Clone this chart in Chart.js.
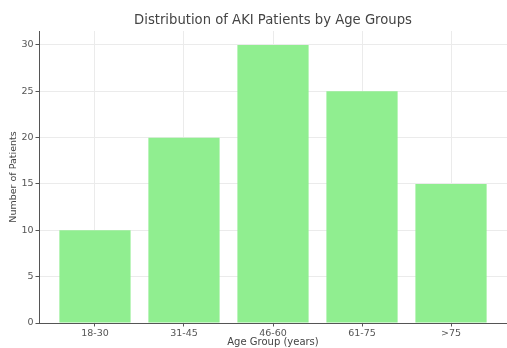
<!DOCTYPE html>
<html>
<head>
<meta charset="utf-8">
<script src="https://cdn.jsdelivr.net/npm/chart.js@4/dist/chart.umd.min.js"></script>
<style>
html,body{margin:0;padding:0;background:#fff;}
#wrap{width:507px;height:348px;position:relative;}
</style>
</head>
<body>
<div id="wrap"><canvas id="c" width="507" height="348"></canvas></div>
<script>
const categories = ["18-30", "31-45", "46-60", "61-75", ">75"];
const patients = [10, 20, 30, 25, 15];
const yTicks = [0, 5, 10, 15, 20, 25, 30];

const points = categories.map((c, i) => ({x: i, y: patients[i]}));
const FONT = "'DejaVu Sans', sans-serif";

new Chart(document.getElementById('c'), {
  type: 'bar',
  data: {
    datasets: [{
      data: points,
      backgroundColor: '#90EE90',
      borderWidth: 0,
      barPercentage: 0.8,
      categoryPercentage: 1.0
    }]
  },
  options: {
    responsive: false,
    animation: false,
    devicePixelRatio: 1,
    layout: {padding: {left: 0, right: 0, top: 0, bottom: 0}},
    plugins: {
      legend: {display: false},
      tooltip: {enabled: false},
      title: {
        display: true,
        fullSize: false,
        text: 'Distribution of AKI Patients by Age Groups',
        color: '#444',
        font: {family: FONT, size: 13.2, weight: 'normal'},
        padding: {top: 12.5, bottom: 2.7}
      }
    },
    scales: {
      x: {
        type: 'linear',
        min: -0.629,
        max: 4.629,
        offset: false,
        afterBuildTicks: s => { s.ticks = categories.map((c, i) => ({value: i})); },
        afterFit: s => { s.height = 25; },
        ticks: {
          autoSkip: false,
          maxRotation: 0,
          color: '#555',
          padding: 1,
          font: {family: FONT, size: 9.5},
          callback: v => categories[v]
        },
        grid: {offset: false, color: '#ebebeb', lineWidth: 1, tickColor: '#555', tickLength: 3.5},
        border: {display: true, color: '#555', width: 1},
        title: {
          display: true,
          text: 'Age Group (years)',
          color: '#444',
          font: {family: FONT, size: 10},
          padding: {top: 0, bottom: 0}
        }
      },
      y: {
        min: 0,
        max: 31.5,
        afterBuildTicks: s => { s.ticks = yTicks.map(v => ({value: v})); },
        afterFit: s => { s.width = 39; },
        ticks: {
          color: '#555',
          padding: 2,
          font: {family: FONT, size: 9.5}
        },
        grid: {color: '#ebebeb', lineWidth: 1, tickColor: '#555', tickLength: 3.5},
        border: {display: true, color: '#555', width: 1},
        title: {
          display: true,
          text: 'Number of Patients',
          color: '#444',
          font: {family: FONT, size: 9.5},
          padding: {top: 8, bottom: 0}
        }
      }
    }
  }
});
</script>
</body>
</html>
